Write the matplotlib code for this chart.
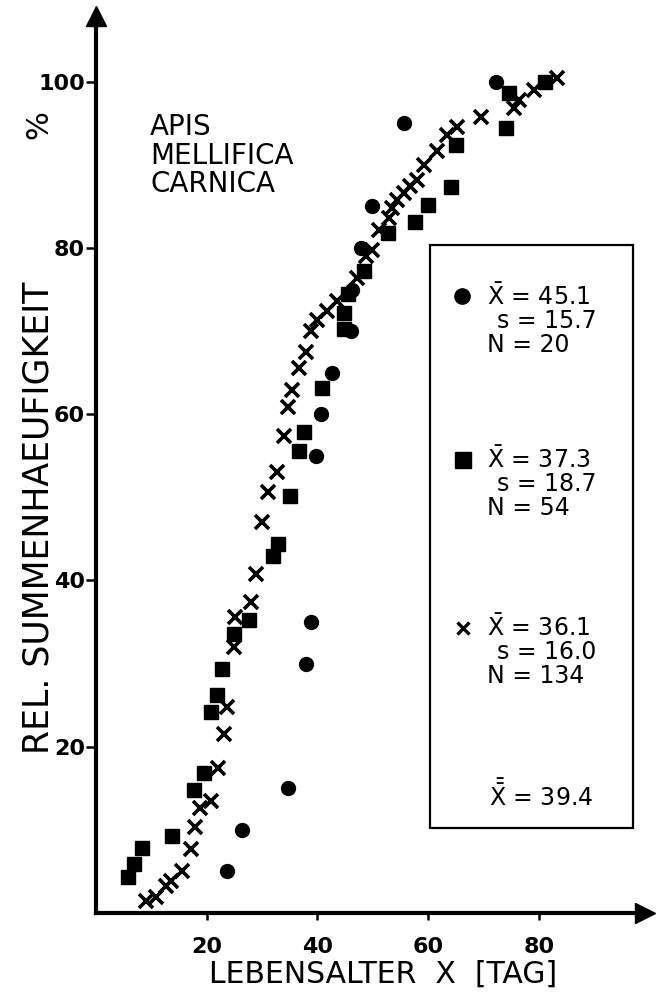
import numpy as np
import matplotlib
matplotlib.use('Agg')
import matplotlib.pyplot as plt
from matplotlib.patches import Rectangle

plt.rcParams['font.family'] = ['DejaVu Sans']
plt.rcParams['mathtext.fontset'] = 'dejavusans'

# Kreise (N=20)
kreis_x = [23.6, 26.4, 34.7, 37.9, 38.9, 39.7, 40.6, 42.7, 46.0, 46.2, 47.8, 49.9, 55.6, 72.2]
kreis_y = [5.0, 10.0, 15.0, 30.0, 35.0, 55.0, 60.0, 65.0, 70.0, 75.0, 80.0, 85.0, 95.0, 100.0]

# Quadrate (N=54)
quad_x = [5.7, 6.9, 8.4, 13.7, 17.7, 19.6, 20.7, 21.9, 22.8, 24.9, 27.6, 32.0, 32.9,
          35.1, 36.7, 37.6, 40.8, 44.8, 44.8, 45.5, 48.4, 52.8, 57.7, 59.9, 64.1,
          65.0, 74.0, 74.7, 81.2]
quad_y = [4.3, 5.9, 7.8, 9.3, 14.8, 16.9, 24.2, 26.2, 29.4, 33.6, 35.2, 43.0, 44.4,
          50.2, 55.6, 57.8, 63.1, 70.2, 72.2, 74.4, 77.2, 81.8, 83.1, 85.2, 87.3,
          92.4, 94.4, 98.6, 100.0]

# Kreuze (N=134)
kreuz_x = [9.0, 10.8, 12.6, 13.6, 15.6, 17.2, 17.8, 18.8, 20.7, 22.0, 23.1, 23.7,
           25.0, 25.2, 28.0, 29.0, 30.0, 31.1, 32.7, 34.0, 34.7, 35.5, 36.7, 37.9,
           38.8, 40.0, 41.8, 43.6, 47.2, 48.7, 49.9, 51.1, 52.9, 53.5, 54.4, 55.6,
           56.8, 58.0, 59.3, 61.7, 63.5, 65.3, 69.5, 75.5, 76.4, 79.1, 83.3]
kreuz_y = [1.5, 1.9, 3.3, 3.9, 5.1, 7.7, 10.3, 12.6, 13.5, 17.5, 21.5, 24.8,
           32.0, 35.6, 37.4, 40.8, 47.0, 50.7, 53.0, 57.4, 60.9, 62.9, 65.6, 67.5,
           70.0, 71.3, 72.4, 73.6, 76.4, 79.0, 79.8, 82.2, 83.6, 84.8, 85.8, 86.6,
           87.4, 88.2, 90.0, 91.7, 93.6, 94.6, 95.8, 96.8, 97.8, 99.0, 100.4]

xticks = [20, 40, 60, 80]
yticks = [20, 40, 60, 80, 100]

stat_kreis = ['45.1', '15.7', '20']
stat_quad = ['37.3', '18.7', '54']
stat_kreuz = ['36.1', '16.0', '134']
gesamt_mittel = '39.4'

W, H = 657, 998
fig = plt.figure(figsize=(W / 100, H / 100), dpi=100)

def fx(px):
    return px / W

def fy(py):
    return 1 - py / H

# Achsen: links 96 px, unten 913 px, oben 16 px, rechts 645 px
ax = fig.add_axes([fx(96), fy(913), fx(645) - fx(96), fy(16) - fy(913)])
ax.set_xlim(0, 99.2)
ax.set_ylim(0, 107.9)

for s in ['top', 'right']:
    ax.spines[s].set_visible(False)
for s in ['left', 'bottom']:
    ax.spines[s].set_linewidth(3)

ax.plot(0, 1, marker='^', color='k', ms=14, transform=ax.transAxes, clip_on=False)
ax.plot(1, 0, marker='>', color='k', ms=14, transform=ax.transAxes, clip_on=False)

ax.set_xticks(xticks)
ax.set_yticks(yticks)
ax.tick_params(axis='y', direction='out', length=7, width=1.8, labelsize=16, pad=1)
ax.tick_params(axis='x', direction='out', length=5, width=1.8, labelsize=16, pad=12)
for lab in ax.get_xticklabels() + ax.get_yticklabels():
    lab.set_fontweight('bold')

# Daten
ax.plot(kreis_x, kreis_y, 'o', color='k', ms=10, clip_on=False)
ax.plot(quad_x, quad_y, 's', color='k', ms=9.5, clip_on=False)
ax.plot(kreuz_x, kreuz_y, 'x', color='k', ms=10, mew=2.6, clip_on=False)

# Legendenkasten
bx0, bx1 = (430 - 96) / 549, (633 - 96) / 549
by0, by1 = (913 - 828) / 897, (913 - 245) / 897
ax.add_patch(Rectangle((bx0, by0), bx1 - bx0, by1 - by0, transform=ax.transAxes,
                       fill=False, lw=1.6, ec='k', clip_on=False))

def ap(px, py):
    return ((px - 96) / 549, (913 - py) / 897)

ax.plot(*ap(462, 296), 'o', color='k', ms=11, transform=ax.transAxes, clip_on=False)
ax.plot(*ap(463, 460), 's', color='k', ms=11, transform=ax.transAxes, clip_on=False)
ax.plot(*ap(463, 628), 'x', color='k', ms=9, mew=2.4, transform=ax.transAxes, clip_on=False)

fs = 17
for stats, y0 in [(stat_kreis, 297), (stat_quad, 460), (stat_kreuz, 628)]:
    fig.text(fx(487), fy(y0), r'$\bar{\mathrm{X}}$ = ' + stats[0], fontsize=fs,
             va='center', ha='left')
    fig.text(fx(497), fy(y0 + 24), 's = ' + stats[1], fontsize=fs, va='center', ha='left')
    fig.text(fx(487), fy(y0 + 48), 'N = ' + stats[2], fontsize=fs, va='center', ha='left')
fig.text(fx(489), fy(795), r'$\bar{\bar{\mathrm{X}}}$ = ' + gesamt_mittel, fontsize=fs,
         va='center', ha='left')

# Artname
fig.text(fx(150), fy(113), 'APIS\nMELLIFICA\nCARNICA', fontsize=20, va='top', ha='left',
         linespacing=1.03)

# Achsenbeschriftungen
fig.text(fx(383), fy(974), 'LEBENSALTER  X  [TAG]', fontsize=21.5, ha='center', va='center')
fig.text(fx(39), fy(518), 'REL. SUMMENHAEUFIGKEIT', fontsize=25, rotation=90,
         ha='center', va='center')
fig.text(fx(39), fy(125), '%', fontsize=22, rotation=90, ha='center', va='center')

fig.savefig('out.png', dpi=100)
